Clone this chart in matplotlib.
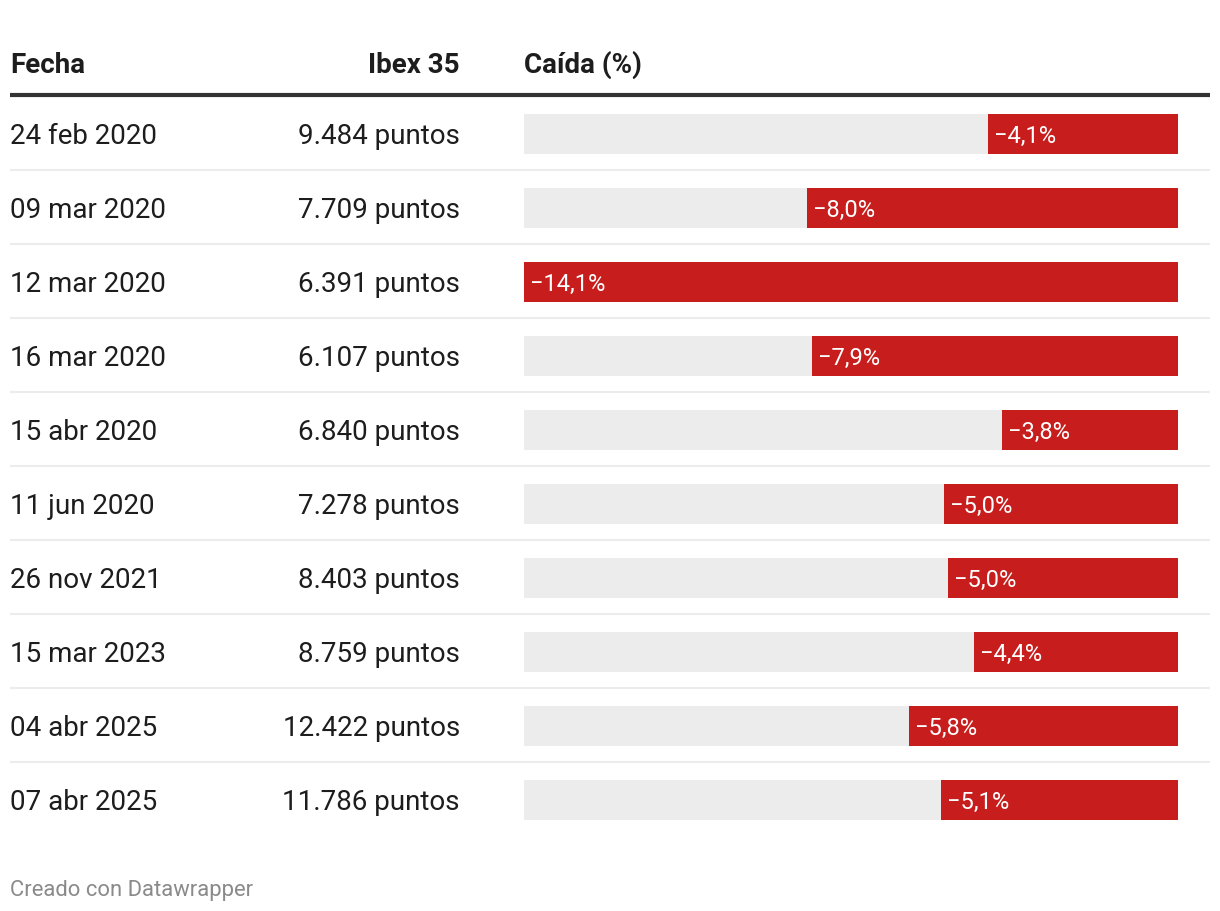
import matplotlib
matplotlib.use("Agg")
import matplotlib.pyplot as plt
from matplotlib.lines import Line2D

plt.rcParams['font.family'] = ['Roboto', 'DejaVu Sans']

fechas = ["24 feb 2020", "09 mar 2020", "12 mar 2020", "16 mar 2020", "15 abr 2020",
          "11 jun 2020", "26 nov 2021", "15 mar 2023", "04 abr 2025", "07 abr 2025"]
ibex = ["9.484", "7.709", "6.391", "6.107", "6.840",
        "7.278", "8.403", "8.759", "12.422", "11.786"]
caida = [-4.1, -8.0, -14.1, -7.9, -3.8, -5.04, -4.96, -4.4, -5.8, -5.1]
headers = ["Fecha", "Ibex 35", "Caída (%)"]
footer = "Creado con Datawrapper"

W, H = 1220, 912
fig = plt.figure(figsize=(W / 100, H / 100), dpi=100)
fig.patch.set_facecolor("white")

def fy(py):
    return 1 - py / H

def fx(px):
    return px / W

RED = "#c71e1d"
GREY = "#ececec"
TXT = "#1d1d1d"

row0 = 134
step = 74
n = len(fechas)
FS = 20

# header
fig.text(fx(10), fy(73), headers[0], ha="left", va="baseline", fontsize=FS,
         fontweight="bold", color=TXT)
fig.text(fx(460), fy(73), headers[1], ha="right", va="baseline", fontsize=FS,
         fontweight="bold", color=TXT)
fig.text(fx(524), fy(73), headers[2], ha="left", va="baseline", fontsize=FS,
         fontweight="bold", color=TXT)
fig.add_artist(Line2D([fx(10), fx(1210)], [fy(96), fy(96)], color="#333333", lw=3,
                      transform=fig.transFigure, solid_capstyle="butt"))

# separators
for i in range(n - 1):
    y = row0 + step * i + step / 2
    fig.add_artist(Line2D([fx(10), fx(1210)], [fy(y), fy(y)], color="#ececec", lw=1.5,
                          transform=fig.transFigure, solid_capstyle="butt"))

# row texts
for i, (f, v) in enumerate(zip(fechas, ibex)):
    yb = row0 + step * i + 10
    fig.text(fx(10), fy(yb), f, ha="left", va="baseline", fontsize=FS, color=TXT)
    fig.text(fx(460), fy(yb), f"{v} puntos", ha="right", va="baseline", fontsize=FS,
             color=TXT)

# bars axis
top = row0 - step / 2 + 1
height = step * n
ax = fig.add_axes([fx(524), fy(top + height), fx(1178) - fx(524), height / H])
ax.set_xlim(min(caida), 0)
ax.set_ylim(n - 0.5, -0.5)
ax.axis("off")
ys = list(range(n))
bh = 40 / step
ax.barh(ys, [min(caida)] * n, height=bh, color=GREY, linewidth=0)
ax.barh(ys, caida, height=bh, color=RED, linewidth=0)
for y, v in zip(ys, caida):
    lab = "−" + f"{abs(v):.1f}".replace(".", ",") + "%"
    ax.annotate(lab, xy=(v, y), xytext=(6, -8), textcoords="offset pixels",
                ha="left", va="baseline", color="white", fontsize=17)

fig.text(fx(10), fy(896), footer, ha="left", va="baseline", fontsize=15.8, color="#8a8a8a")

fig.savefig("out.png", dpi=100, facecolor="white")
